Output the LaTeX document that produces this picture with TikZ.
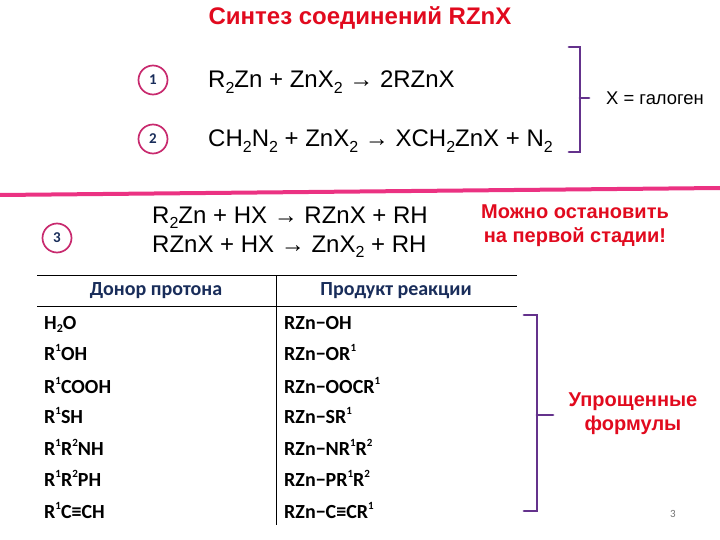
\documentclass[tikz,border=0pt]{standalone}
\usepackage{fontspec}
\setmainfont{Liberation Sans}
\newfontfamily\tablefont{Carlito}
\definecolor{titlered}{RGB}{225, 10, 30}
\definecolor{linepink}{RGB}{235, 50, 130}
\definecolor{bracketviolet}{RGB}{100, 50, 140}
\definecolor{headnavy}{RGB}{25, 45, 90}
\newcommand{\lowix}[1]{\raisebox{-0.22em}{\fontsize{16}{16}\selectfont #1}}
\newcommand{\upix}[1]{\raisebox{0.42em}{\fontsize{11}{11}\selectfont #1}}
\newcommand{\lowcell}[1]{\raisebox{-0.18em}{\fontsize{12}{12}\selectfont #1}}
\usetikzlibrary{
  positioning,
}
\tikzset{
  eqn/.style={anchor=base west,inner sep=0pt,font=\fontsize{24}{28}\selectfont},
  redtext/.style={text=titlered,font=\fontsize{20}{24}\selectfont\bfseries,align=center,inner sep=0pt},
  stage/.style={draw=linepink!85!black,line width=1.7pt,circle,minimum size=29,inner sep=0pt,text=headnavy,font=\tablefont\fontsize{15}{17}\selectfont\bfseries},
  bracket/.style={draw=bracketviolet,line width=2.8pt,line cap=round},
  rule/.style={draw=black,line width=0.8pt},
  head/.style={inner sep=0pt,text=headnavy,font=\tablefont\fontsize{20}{24}\selectfont\bfseries},
  cell/.style={anchor=base west,inner sep=0pt,font=\tablefont\fontsize{20}{24}\selectfont\bfseries},
}
\begin{document}
\begin{tikzpicture}[x=1pt,y=-1pt]
  \useasboundingbox (0,0) rectangle (720,540);

  \node[redtext,font=\fontsize{24}{28}\selectfont\bfseries] (title) at (360,18) {Синтез соединений RZnX};

  \node[stage] (s1) at (153,80) {1};
  \node[stage] (s2) at (153,139) {2};
  \node[stage] (s3) at (57,238) {3};

  \node[eqn] (eq1) at (208,88) {R\lowix{2}Zn + ZnX\lowix{2} → 2RZnX};
  \node[eqn] (eq2) at (208,147) {CH\lowix{2}N\lowix{2} + ZnX\lowix{2} → XCH\lowix{2}ZnX + N\lowix{2}};
  \node[inner sep=0pt,anchor=west,font=\fontsize{18.4}{22}\selectfont] (halogen) at (606,98) {X = галоген};

  % upper bracket
  \coordinate (b1a) at (569,47);
  \coordinate (b1b) at (580,47);
  \coordinate (b1c) at (580,152);
  \coordinate (b1d) at (569,152);
  \coordinate (b1m) at (580,98);
  \coordinate (b1t) at (589,98);
  \draw[bracket] (b1a) -- (b1b) -- (b1c) -- (b1d);
  \draw[bracket] (b1m) -- (b1t);

  \coordinate (sepl) at (0,195);
  \coordinate (sepr) at (720,188);
  \draw[draw=linepink,line width=4pt] (sepl) -- (sepr);

  \node[eqn] (eq3) at (152,223) {R\lowix{2}Zn + HX → RZnX + RH};
  \node[eqn] (eq4) at (152,252) {RZnX + HX → ZnX\lowix{2} + RH};
  \node[redtext] (stop) at (575,226) {Можно остановить\\[0pt]на первой стадии!};

  % table
  \coordinate (t1) at (37,275);
  \coordinate (t2) at (517,275);
  \coordinate (t3) at (37,306);
  \coordinate (t4) at (517,306);
  \coordinate (t5) at (276,275);
  \coordinate (t6) at (276,525);
  \draw[rule] (t1) -- (t2);
  \draw[rule] (t3) -- (t4);
  \draw[rule] (t5) -- (t6);
  \node[head] (donor) at (156,291) {Донор протона};
  \node[head] (product) at (396,291) {Продукт реакции};

  \foreach \name/\y/\left/\right in {
    a/329/H\lowcell{2}O/RZn−OH,
    b/360/R\upix{1}OH/RZn−OR\upix{1},
    c/393/R\upix{1}COOH/RZn−OOCR\upix{1},
    d/423/R\upix{1}SH/RZn−SR\upix{1},
    e/455/R\upix{1}R\upix{2}NH/RZn−NR\upix{1}R\upix{2},
    f/486/R\upix{1}R\upix{2}PH/RZn−PR\upix{1}R\upix{2},
    g/518/R\upix{1}C≡CH/RZn−C≡CR\upix{1}} {
    \node[cell] (\name0) at (44,\y) {\left};
    \node[cell] (\name1) at (284,\y) {\right};
  }

  % lower bracket
  \coordinate (b2a) at (524,315);
  \coordinate (b2b) at (537,315);
  \coordinate (b2c) at (537,511);
  \coordinate (b2d) at (524,511);
  \coordinate (b2m) at (537,415);
  \coordinate (b2t) at (553,415);
  \draw[bracket] (b2a) -- (b2b) -- (b2c) -- (b2d);
  \draw[bracket] (b2m) -- (b2t);

  \node[redtext] (simple) at (633,414) {Упрощенные\\[0pt]формулы};
  \node[inner sep=0pt,text=black!55,font=\tablefont\fontsize{11}{13}\selectfont] (page) at (673,514) {3};
\end{tikzpicture}
\end{document}
